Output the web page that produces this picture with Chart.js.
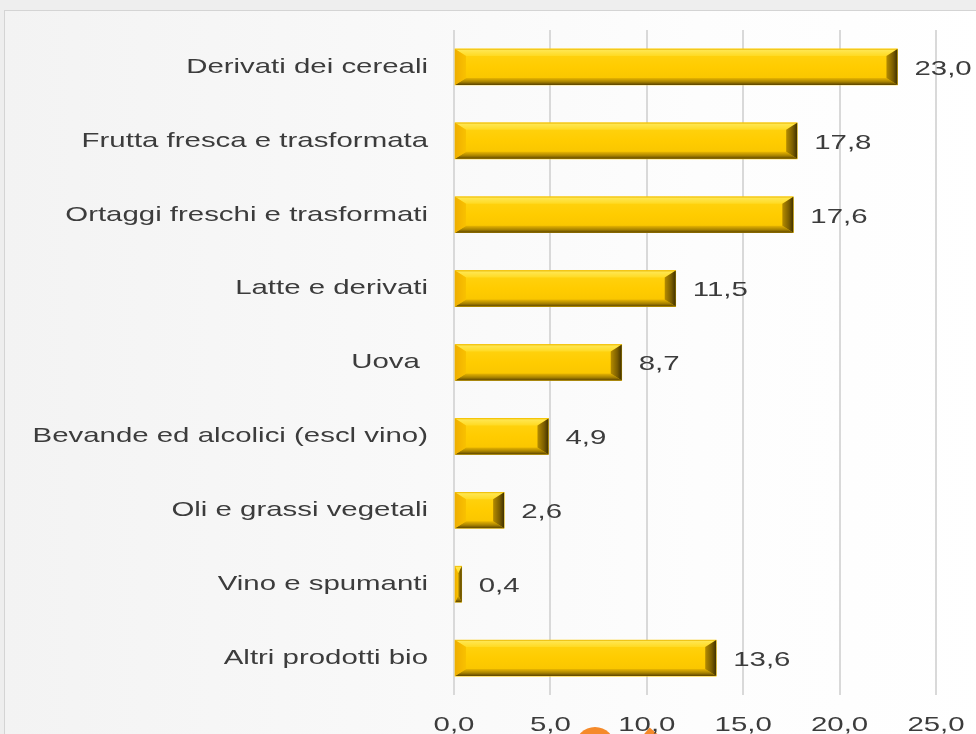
<!DOCTYPE html>
<html><head><meta charset="utf-8">
<script src="https://cdn.jsdelivr.net/npm/chart.js@4/dist/chart.umd.min.js"></script>
<style>
html,body{margin:0;padding:0;width:976px;height:734px;overflow:hidden;background:#eeeeee;}
#frame{position:absolute;left:4px;top:10px;width:990px;height:740px;border:1px solid #d4d4d4;
 background:linear-gradient(90deg,#f3f3f3 0%,#f8f8f8 35%,#fdfdfd 70%,#ffffff 100%);}
#wrap{position:absolute;left:0;top:0;width:976px;height:734px;}
.dot{position:absolute;left:575px;top:727px;width:40px;height:40px;border-radius:50%;background:#f58a2a;}
.tri{position:absolute;left:640px;top:732px;width:22px;height:22px;background:#f58a2a;transform:rotate(40deg);}
</style></head>
<body>
<div id="frame"></div>
<div class="dot"></div><div class="tri"></div>
<div id="wrap"><canvas id="c" width="976" height="734"></canvas></div>
<script>
const categories = ["Derivati dei cereali","Frutta fresca e trasformata","Ortaggi freschi e trasformati","Latte e derivati","Uova ","Bevande ed alcolici (escl vino)","Oli e grassi vegetali","Vino e spumanti","Altri prodotti bio"];
const values = [23.0,17.8,17.6,11.5,8.7,4.9,2.6,0.4,13.6];
const tickLabels = ["0,0","5,0","10,0","15,0","20,0","25,0"];

const TEXT = '#3c3c3c';
const SX = 1.4;
const FONT = {family:'"Liberation Sans", Arial, sans-serif', size:21};

function fmt(v){ return v.toFixed(1).replace('.', ','); }

// horizontally widened text, as in the reference
const stretchPlugin = {
  id:'stretch',
  beforeInit(chart){
    const ctx = chart.ctx;
    const orig = ctx.fillText;
    ctx.fillText = function(text, x, y, maxWidth){
      this.save();
      this.translate(x, y);
      this.scale(SX, 1);
      if (maxWidth === undefined) orig.call(this, text, 0, 0);
      else orig.call(this, text, 0, 0, maxWidth / SX);
      this.restore();
    };
  }
};

function poly(ctx, pts, fill){
  ctx.beginPath(); ctx.moveTo(pts[0][0], pts[0][1]);
  for (let i=1;i<pts.length;i++) ctx.lineTo(pts[i][0], pts[i][1]);
  ctx.closePath(); ctx.fillStyle = fill; ctx.fill();
}

const bevelPlugin = {
  id:'bevel',
  afterDatasetsDraw(chart){
    const ctx = chart.ctx;
    const meta = chart.getDatasetMeta(0);
    ctx.save();
    meta.data.forEach((el, i) => {
      const p = el.getProps(['x','y','base','height'], true);
      const x0 = Math.min(p.base, p.x), x1 = Math.max(p.base, p.x);
      const y0 = p.y - p.height/2, y1 = p.y + p.height/2, w = x1 - x0, h = p.height;
      const bv = Math.min(11, w/2), bh = Math.min(7, h/2);
      let g = ctx.createLinearGradient(0, y0, 0, y1);
      g.addColorStop(0, '#FFD414'); g.addColorStop(0.5, '#FFCC00'); g.addColorStop(1, '#F7C300');
      ctx.fillStyle = g; ctx.fillRect(x0, y0, w, h);
      g = ctx.createLinearGradient(0, y0, 0, y0 + bh);
      g.addColorStop(0, '#E9B600'); g.addColorStop(0.2, '#FFE64F'); g.addColorStop(1, '#FFDA22');
      poly(ctx, [[x0,y0],[x1,y0],[x1-bv,y0+bh],[x0+bv,y0+bh]], g);
      g = ctx.createLinearGradient(0, y1 - bh, 0, y1);
      g.addColorStop(0, '#E8B500'); g.addColorStop(0.55, '#A98300'); g.addColorStop(1, '#5A4300');
      poly(ctx, [[x0,y1],[x1,y1],[x1-bv,y1-bh],[x0+bv,y1-bh]], g);
      g = ctx.createLinearGradient(x0, 0, x0 + bv, 0);
      g.addColorStop(0, '#EFAE00'); g.addColorStop(1, '#F9C100');
      poly(ctx, [[x0,y0],[x0+bv,y0+bh],[x0+bv,y1-bh],[x0,y1]], g);
      g = ctx.createLinearGradient(x1 - bv, 0, x1, 0);
      g.addColorStop(0, '#B58C00'); g.addColorStop(0.6, '#7A5D00'); g.addColorStop(1, '#3F3000');
      poly(ctx, [[x1,y0],[x1-bv,y0+bh],[x1-bv,y1-bh],[x1,y1]], g);
    });
    ctx.font = FONT.size + 'px ' + FONT.family;
    ctx.fillStyle = TEXT;
    ctx.textAlign = 'left';
    ctx.textBaseline = 'middle';
    meta.data.forEach((el, i) => {
      const p = el.getProps(['x','y'], true);
      ctx.fillText(fmt(values[i]), p.x + 17, p.y + 2);
    });
    ctx.restore();
  }
};

new Chart(document.getElementById('c'), {
  type:'bar',
  data:{ labels: categories, datasets:[{ data: values, backgroundColor:'#FFCC00', borderWidth:0, barThickness:36 }] },
  options:{
    indexAxis:'y', responsive:false, animation:false, devicePixelRatio:1,
    layout:{ padding:{ top:30, right:40, bottom:0, left:0 } },
    plugins:{ legend:{display:false}, tooltip:{enabled:false} },
    scales:{
      x:{ min:0, max:25,
          ticks:{ stepSize:5, color:TEXT, font:FONT, padding:18, maxRotation:0, autoSkip:false,
                  callback:(v,i)=>tickLabels[i] },
          grid:{ color:'#d9d9d9', lineWidth:2, drawTicks:false },
          border:{ display:false },
          afterFit:(s)=>{ s.height = 39; s.paddingLeft = 0; s.paddingRight = 0; } },
      y:{ ticks:{ color:TEXT, font:FONT, padding:26, autoSkip:false },
          grid:{ display:false, drawTicks:false },
          border:{ display:false },
          afterFit:(s)=>{ s.width = 454; s.paddingTop = 0; s.paddingBottom = 0; } }
    }
  },
  plugins:[stretchPlugin, bevelPlugin]
});
</script>
</body></html>
